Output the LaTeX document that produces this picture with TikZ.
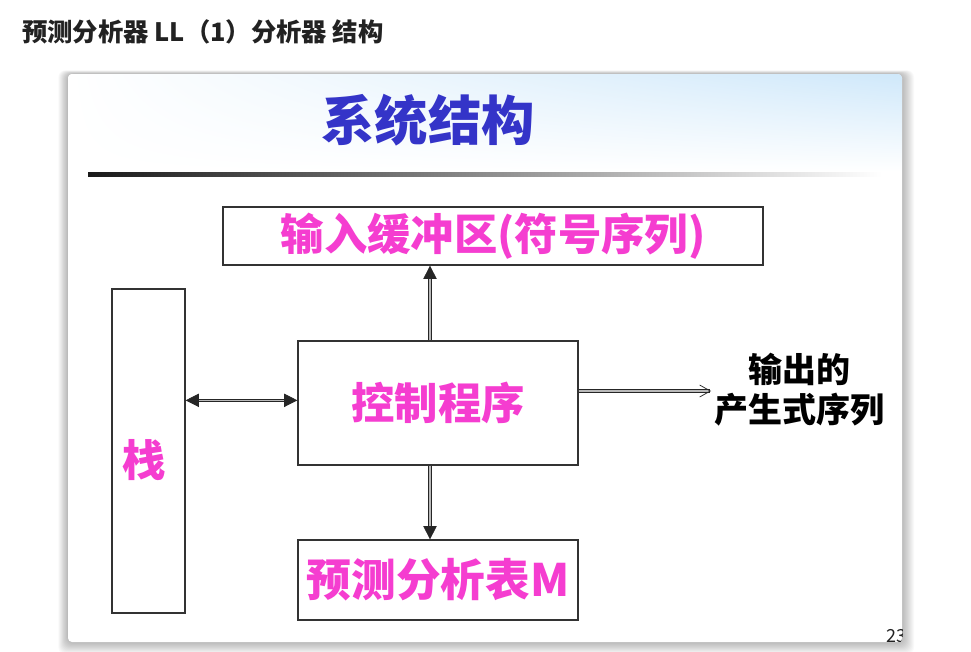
\documentclass[tikz,border=0pt]{standalone}
\usepackage{fontspec}
\setmainfont{Noto Sans CJK SC}
\usetikzlibrary{arrows.meta,shadings}
\definecolor{mag}{HTML}{F53DD0}
\definecolor{tblue}{HTML}{3434C8}
\definecolor{hdr}{HTML}{222222}
\definecolor{skyb}{HTML}{CFE8FA}
\tikzset{
  box/.style={draw=black!80, line width=0.9pt, fill=white, inner sep=0pt, text=mag,
    font=\bfseries\fontsize{32.5}{38}\selectfont},
  conn/.style={draw=black!85, double=gray!55, double distance=1.2pt, line width=0.55pt},
  tri/.style={-{Triangle[length=10pt,width=10pt]}},
  bitri/.style={{Triangle[length=10pt,width=10pt]}-{Triangle[length=10pt,width=10pt]}},
  barb/.style={-{Straight Barb[length=8pt,width=9pt]}}
}
\begin{document}
\begin{tikzpicture}[x=0.75pt,y=-0.75pt]
\useasboundingbox (0,0) rectangle (971,651);
\fill[white] (0,0) rectangle (971,651);
% heading
\node[anchor=west, inner sep=0pt, text=hdr, font=\bfseries\fontsize{19}{22}\selectfont] (heading) at (22,32) {预测分析器 LL（1）分析器 结构};
% shadow
\foreach \s in {1,...,12}
  \fill[black, opacity=0.024, rounded corners=5pt] (68-\s*0.8, 74-\s*0.3) rectangle (902+\s, 642+\s);
% card
\fill[white, rounded corners=3pt] (68,74) rectangle (902,642);
\begin{scope}
  \clip[rounded corners=3pt] (68,74) rectangle (902,642);
  \shade[upper left=white, upper right=skyb, lower left=white, lower right=white] (68,74) rectangle (902,172);
  \node[anchor=west, inner sep=0pt, text=hdr, font=\fontsize{13.5}{16}\selectfont] (pnum) at (886,636) {23};
\end{scope}
% title
\node[text=tblue, font=\bfseries\fontsize{40}{48}\selectfont] (title) at (428,120) {系统结构};
\shade[left color=black!90, right color=white] (88,172) rectangle (882,176);
% boxes
\node[box, minimum width=405pt, minimum height=43.5pt] (input) at (493,236) {输入缓冲区(符号序列)};
\node[box, minimum width=54.75pt, minimum height=243pt] (stack) at (148.5,451) {};
\node[inner sep=0pt, text=mag, font=\bfseries\fontsize{32.5}{38}\selectfont] (stacklbl) at (144,460) {栈};
\node[box, minimum width=210pt, minimum height=93pt] (control) at (438,403) {控制程序};
\node[box, minimum width=210pt, minimum height=60pt, font=\bfseries\fontsize{33.5}{38}\selectfont] (table) at (438,580) {预测分析表M};
\node[align=center, inner sep=0pt, text=black, font=\bfseries\fontsize{25.5}{30}\selectfont] (output) at (799,390) {输出的\\产生式序列};
% connectors
\draw[conn, bitri] ([yshift=2pt]control.west -| stack.east) -- ([yshift=2pt]control.west);
\draw[conn, tri] ([xshift=-6pt]control.north) -- ([xshift=-6pt]control.north |- input.south);
\draw[conn, tri] ([xshift=-6pt]control.south) -- ([xshift=-6pt]control.south |- table.north);
\draw[conn, barb] ([yshift=9pt]control.east) -- ([yshift=9pt, xshift=-2pt]control.east -| output.west);
\end{tikzpicture}
\end{document}
